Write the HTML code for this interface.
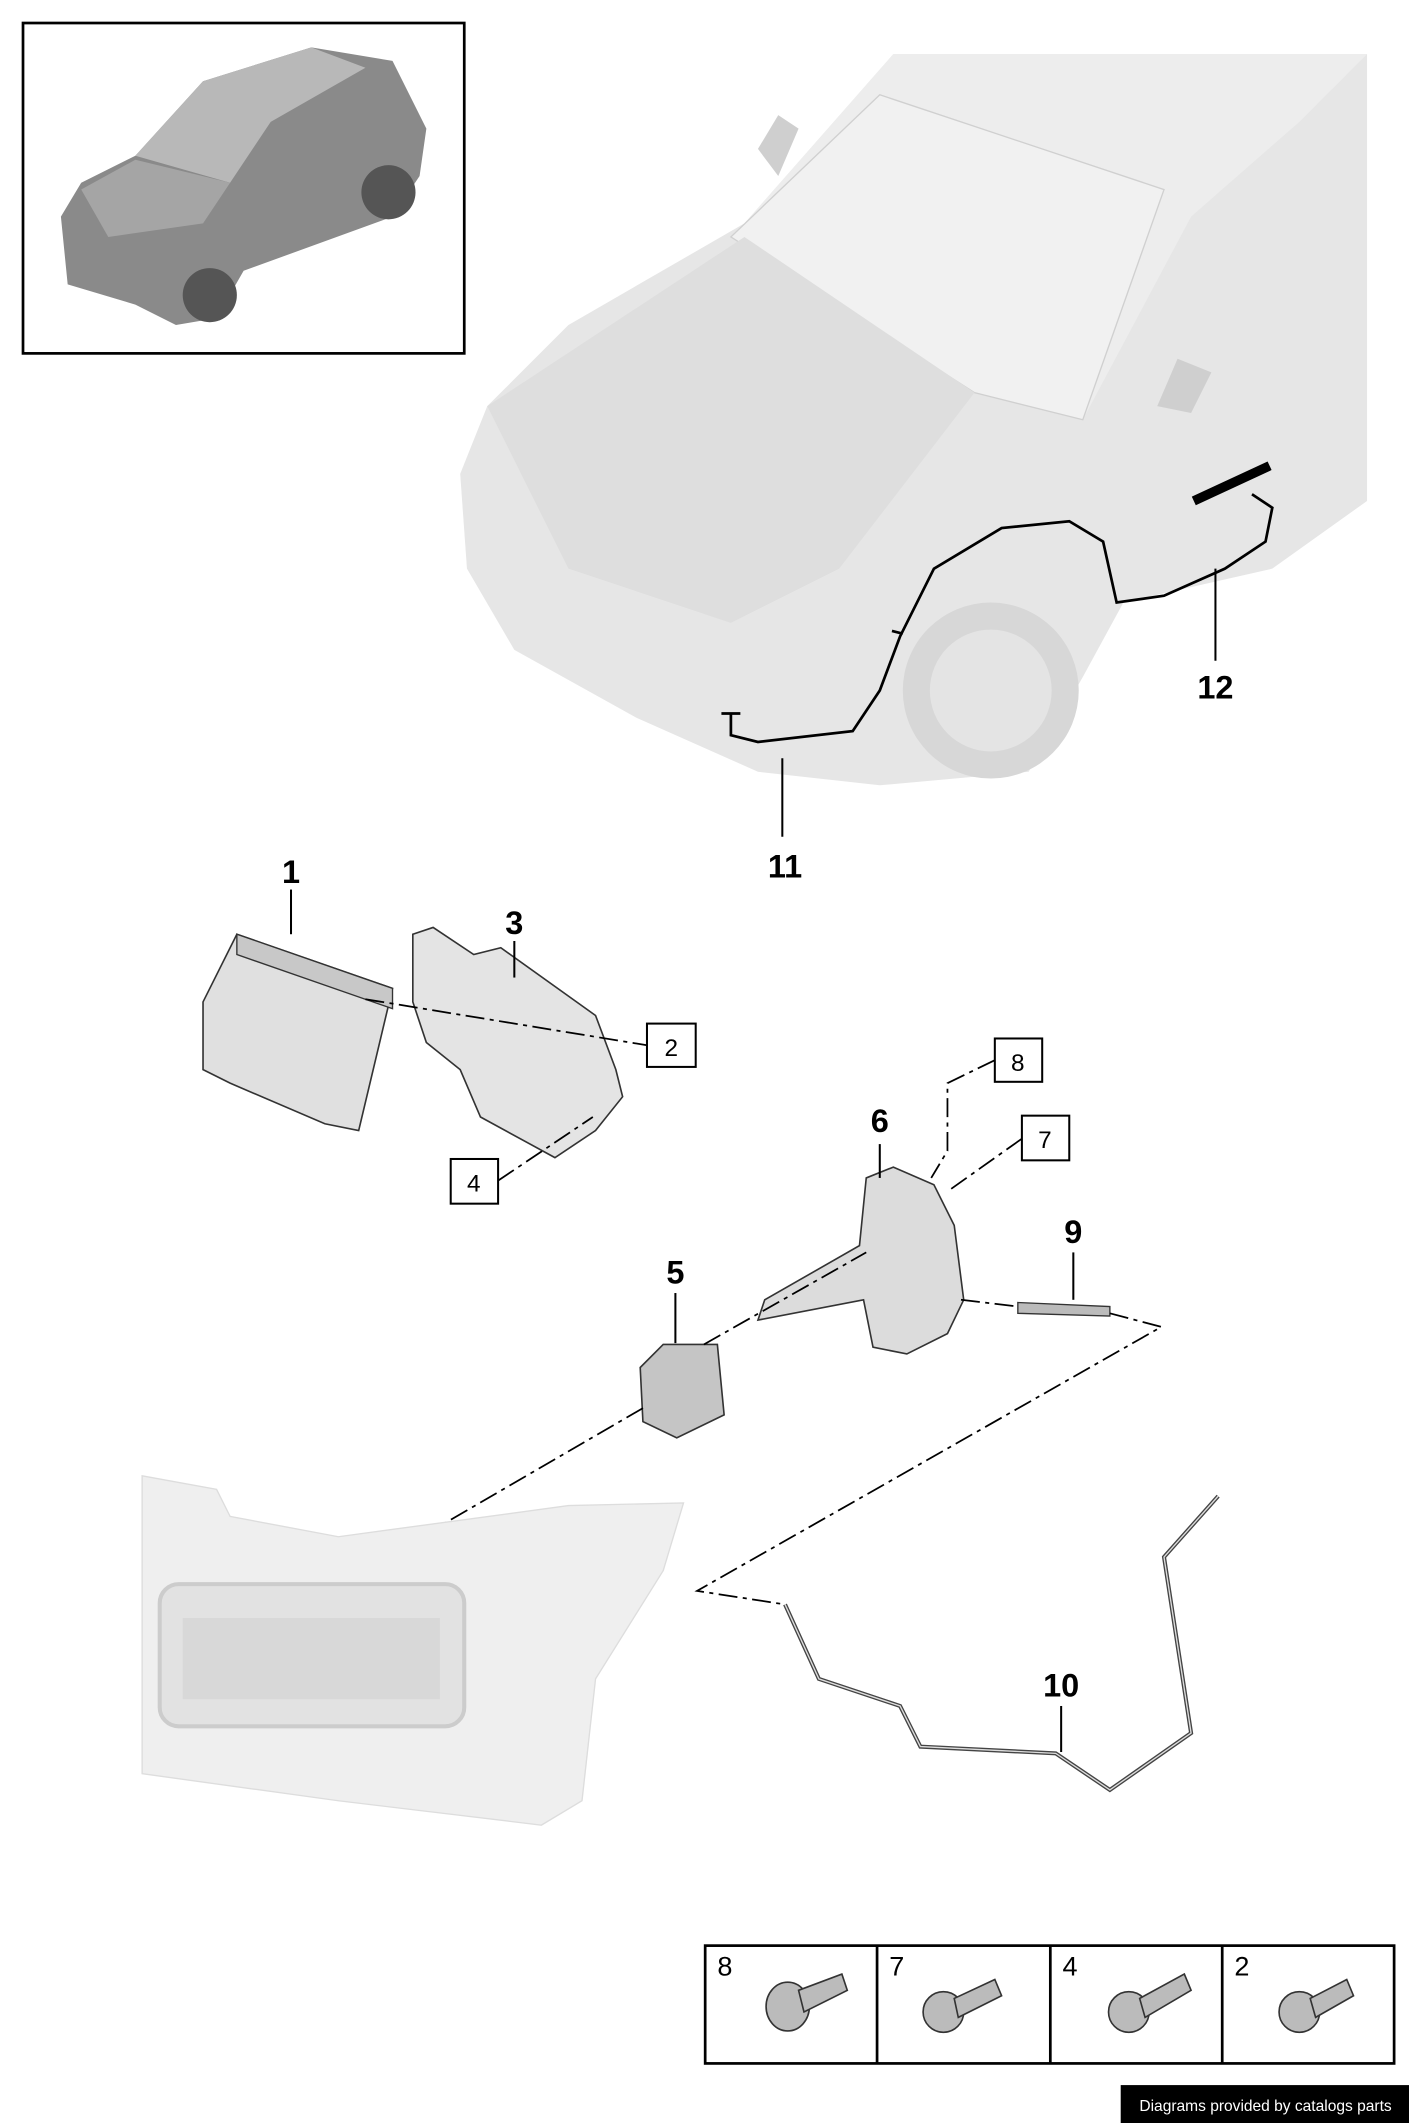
<!DOCTYPE html>
<html><head><meta charset="utf-8"><style>
html,body{margin:0;padding:0;background:#fff;}
svg{display:block;}
text{font-family:"Liberation Sans",sans-serif;}
</style></head><body>
<svg width="1409" height="2123" viewBox="0 0 1041 1568" preserveAspectRatio="none" xmlns="http://www.w3.org/2000/svg">
<rect width="1041" height="1568" fill="#fff"/>
<!-- inset -->
<rect x="17" y="17" width="326" height="244" fill="#fff" stroke="#000" stroke-width="2"/>
<path d="M45,160 L60,135 L100,115 L150,60 L230,35 L290,45 L315,95 L310,130 L290,160 L180,200 L160,235 L130,240 L100,225 L50,210 Z" fill="#8a8a8a"/>
<path d="M100,115 L150,60 L230,35 L270,50 L200,90 L170,135 Z" fill="#b8b8b8"/>
<path d="M60,140 L100,118 L170,135 L150,165 L80,175 Z" fill="#a5a5a5"/>
<circle cx="155" cy="218" r="20" fill="#555"/><circle cx="287" cy="142" r="20" fill="#555"/>
<!-- big car -->
<path d="M340,350 L360,300 L420,240 L550,165 L660,40 L1010,40 L1010,370 L940,420 L830,445 L800,500 L760,570 L650,580 L560,570 L470,530 L380,480 L345,420 Z" fill="#e6e6e6"/>
<path d="M550,165 L660,40 L1010,40 L960,90 L880,160 L800,310 L720,290 Z" fill="#ededed"/>
<path d="M540,175 L650,70 L860,140 L800,310 L720,290 Z" fill="#f1f1f1" stroke="#d0d0d0"/>
<path d="M360,300 L550,175 L720,290 L620,420 L540,460 L420,420 Z" fill="#dedede"/>
<circle cx="732" cy="510" r="65" fill="#d7d7d7"/><circle cx="732" cy="510" r="45" fill="#e4e4e4"/>
<path d="M560,110 L575,85 L590,95 L575,130 Z" fill="#cfcfcf"/>
<path d="M855,300 L870,265 L895,275 L880,305 Z" fill="#cfcfcf"/>
<!-- cable 11/12 -->
<path d="M540,527 L540,543 L560,548 L630,540 L650,510 L665,470 L690,420 L740,390 L790,385 L815,400 L825,445 L860,440 L905,420 L935,400 L940,375 L925,365" fill="none" stroke="#000" stroke-width="2"/>
<line x1="533" y1="527" x2="547" y2="527" stroke="#000" stroke-width="2"/>
<line x1="882" y1="370" x2="938" y2="344" stroke="#000" stroke-width="7"/>
<line x1="659" y1="466" x2="667" y2="468" stroke="#000" stroke-width="2"/>
<line x1="578" y1="560" x2="578" y2="618" stroke="#000" stroke-width="1.5"/>
<line x1="898" y1="420" x2="898" y2="488" stroke="#000" stroke-width="1.5"/>
<text x="580" y="648" font-size="24" font-weight="bold" text-anchor="middle">11</text>
<text x="898" y="516" font-size="24" font-weight="bold" text-anchor="middle">12</text>
<!-- part 1 -->
<path d="M150,740 L175,690 L290,730 L265,835 L240,830 L170,800 L150,790 Z" fill="#e0e0e0" stroke="#333" stroke-width="1.2"/>
<path d="M175,690 L290,730 L290,745 L175,705 Z" fill="#c8c8c8" stroke="#333"/>
<line x1="215" y1="657" x2="215" y2="690" stroke="#000" stroke-width="1.5"/>
<text x="215" y="652" font-size="24" font-weight="bold" text-anchor="middle">1</text>
<!-- part 3 -->
<path d="M305,690 L320,685 L350,705 L370,700 L440,750 L455,790 L460,810 L440,835 L410,855 L355,825 L340,790 L315,770 L305,740 Z" fill="#e4e4e4" stroke="#333" stroke-width="1.2"/>
<line x1="380" y1="695" x2="380" y2="722" stroke="#000" stroke-width="1.5"/>
<text x="380" y="690" font-size="24" font-weight="bold" text-anchor="middle">3</text>
<line x1="270" y1="738" x2="478" y2="772" stroke="#000" stroke-width="1.3" stroke-dasharray="14,4,3,4"/>
<rect x="478" y="756" width="36" height="32" fill="#fff" stroke="#000" stroke-width="1.5"/>
<text x="496" y="780" font-size="18" text-anchor="middle">2</text>
<line x1="368" y1="872" x2="438" y2="825" stroke="#000" stroke-width="1.3" stroke-dasharray="14,4,3,4"/>
<rect x="333" y="856" width="35" height="33" fill="#fff" stroke="#000" stroke-width="1.5"/>
<text x="350" y="880" font-size="18" text-anchor="middle">4</text>
<!-- part 6 -->
<path d="M640,870 L660,862 L690,875 L705,905 L712,960 L700,985 L670,1000 L645,995 L638,960 L560,975 L565,960 L635,920 Z" fill="#dcdcdc" stroke="#333" stroke-width="1.2"/>
<line x1="650" y1="845" x2="650" y2="870" stroke="#000" stroke-width="1.5"/>
<text x="650" y="836" font-size="24" font-weight="bold" text-anchor="middle">6</text>
<polyline points="735,783 700,800 700,850 688,870" fill="none" stroke="#000" stroke-width="1.3" stroke-dasharray="14,4,3,4"/>
<rect x="735" y="767" width="35" height="32" fill="#fff" stroke="#000" stroke-width="1.5"/>
<text x="752" y="791" font-size="18" text-anchor="middle">8</text>
<line x1="755" y1="841" x2="700" y2="880" stroke="#000" stroke-width="1.3" stroke-dasharray="14,4,3,4"/>
<rect x="755" y="824" width="35" height="33" fill="#fff" stroke="#000" stroke-width="1.5"/>
<text x="772" y="848" font-size="18" text-anchor="middle">7</text>
<!-- part 9 -->
<path d="M752,962 L820,965 L820,972 L752,970 Z" fill="#bbb" stroke="#333"/>
<line x1="793" y1="925" x2="793" y2="960" stroke="#000" stroke-width="1.5"/>
<text x="793" y="918" font-size="24" font-weight="bold" text-anchor="middle">9</text>
<polyline points="710,960 752,965" fill="none" stroke="#000" stroke-width="1.3" stroke-dasharray="14,4,3,4"/>
<polyline points="820,970 858,980 515,1175 580,1185" fill="none" stroke="#000" stroke-width="1.3" stroke-dasharray="14,4,3,4"/>
<!-- part 5 -->
<path d="M473,1010 L490,993 L530,993 L535,1045 L500,1062 L475,1050 Z" fill="#c5c5c5" stroke="#333" stroke-width="1.2"/>
<line x1="499" y1="955" x2="499" y2="992" stroke="#000" stroke-width="1.5"/>
<text x="499" y="948" font-size="24" font-weight="bold" text-anchor="middle">5</text>
<line x1="520" y1="993" x2="640" y2="925" stroke="#000" stroke-width="1.3" stroke-dasharray="14,4,3,4"/>
<line x1="475" y1="1040" x2="320" y2="1130" stroke="#000" stroke-width="1.3" stroke-dasharray="14,4,3,4"/>
<!-- bumper -->
<path d="M105,1090 L160,1100 L170,1120 L250,1135 L420,1112 L505,1110 L490,1160 L440,1240 L430,1330 L400,1348 L250,1330 L105,1310 Z" fill="#efefef" stroke="#ddd"/>
<rect x="118" y="1170" width="225" height="105" rx="14" fill="#e2e2e2" stroke="#ccc" stroke-width="3"/>
<rect x="135" y="1195" width="190" height="60" fill="#d8d8d8"/>
<!-- cable 10 -->
<path d="M580,1185 L605,1240 L665,1260 L680,1290 L780,1295 L820,1322 L880,1280 L860,1150 L900,1105" fill="none" stroke="#444" stroke-width="3"/>
<path d="M580,1185 L605,1240 L665,1260 L680,1290 L780,1295 L820,1322 L880,1280 L860,1150 L900,1105" fill="none" stroke="#ddd" stroke-width="1"/>
<line x1="784" y1="1260" x2="784" y2="1294" stroke="#000" stroke-width="1.5"/>
<text x="784" y="1253" font-size="24" font-weight="bold" text-anchor="middle">10</text>
<!-- bolts table -->
<rect x="521" y="1437" width="509" height="87" fill="#fff" stroke="#000" stroke-width="2"/>
<line x1="648" y1="1437" x2="648" y2="1524" stroke="#000" stroke-width="2"/>
<line x1="776" y1="1437" x2="776" y2="1524" stroke="#000" stroke-width="2"/>
<line x1="903" y1="1437" x2="903" y2="1524" stroke="#000" stroke-width="2"/>
<text x="530" y="1459" font-size="20">8</text>
<text x="657" y="1459" font-size="20">7</text>
<text x="785" y="1459" font-size="20">4</text>
<text x="912" y="1459" font-size="20">2</text>
<g fill="#bbb" stroke="#333" stroke-width="1.2">
<ellipse cx="582" cy="1482" rx="16" ry="18"/><path d="M590,1470 L622,1458 L626,1470 L594,1486 Z"/>
<ellipse cx="697" cy="1486" rx="15" ry="15"/><path d="M705,1476 L735,1462 L740,1474 L708,1490 Z"/>
<ellipse cx="834" cy="1486" rx="15" ry="15"/><path d="M842,1476 L875,1458 L880,1470 L846,1490 Z"/>
<ellipse cx="960" cy="1486" rx="15" ry="15"/><path d="M968,1476 L995,1462 L1000,1474 L972,1490 Z"/>
</g>
<rect x="828" y="1540" width="213" height="28" fill="#000"/>
<text x="935" y="1559" font-size="11.5" fill="#fff" text-anchor="middle">Diagrams provided by catalogs parts</text>
</svg>
</body></html>
